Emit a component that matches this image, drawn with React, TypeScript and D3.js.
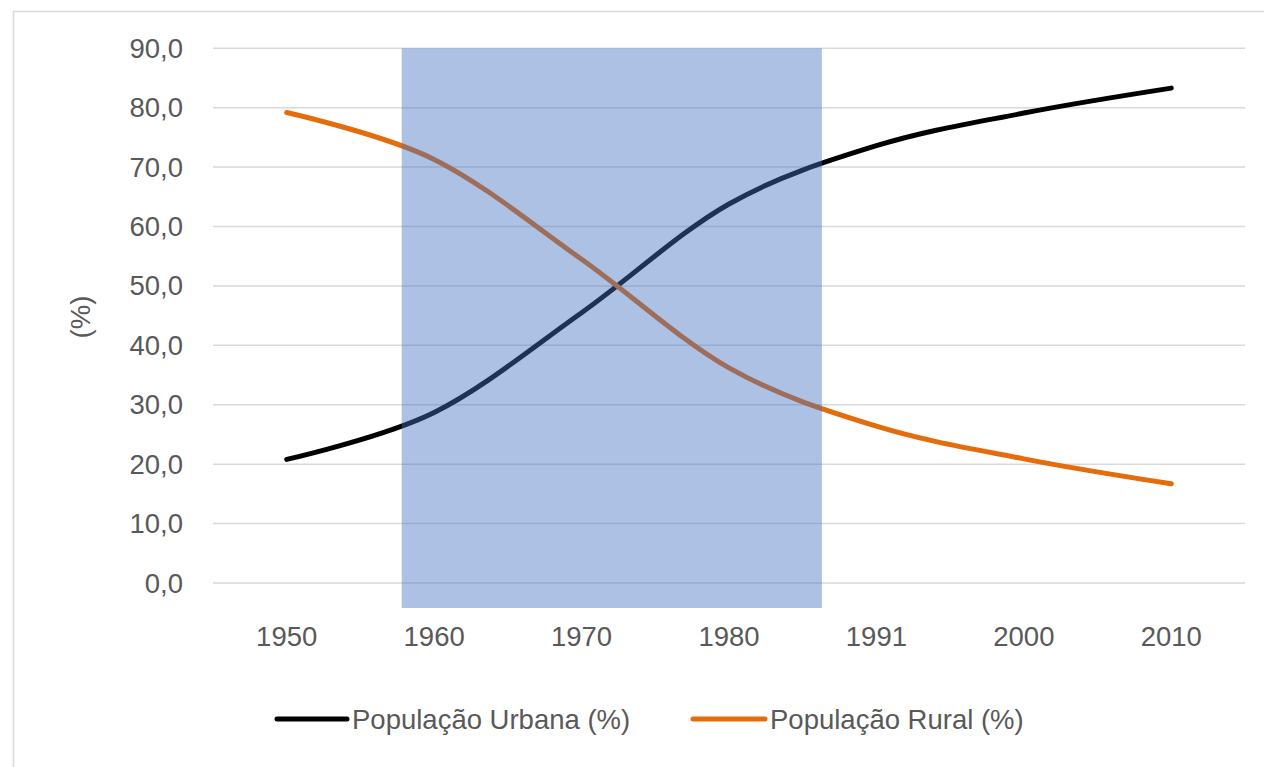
import React from "react";
import * as d3 from "d3";

const years = ["1950", "1960", "1970", "1980", "1991", "2000", "2010"];
const urbana = [20.8, 28.7, 45.5, 63.8, 73.6, 79.1, 83.3];
const rural = [79.2, 71.3, 54.5, 36.2, 26.4, 20.9, 16.7];
const yTicks = [0, 10, 20, 30, 40, 50, 60, 70, 80, 90];
// shaded period, in category-index units and value units
const shadeIdx = [0.78, 3.63];
const shadeVal = [-4.2, 90];

const seriesNames = ["População Urbana (%)", "População Rural (%)"];
const seriesColors = ["#000000", "#E46C0A"];

const W = 1264;
const H = 767;
const FONT = "'Liberation Sans', Arial, sans-serif";
const TXT = "#595959";
const FS = 27.5;

export default function App() {
  const x = d3.scalePoint<string>().domain(years).range([213, 1245]).padding(0.5);
  const xi = d3
    .scaleLinear()
    .domain([0, years.length - 1])
    .range([x(years[0]) as number, x(years[years.length - 1]) as number]);
  const y = d3.scaleLinear().domain([0, 90]).range([583, 48.3]);
  const line = d3
    .line<number>()
    .x((_, i) => xi(i))
    .y((d) => y(d))
    .curve(d3.curveCatmullRom.alpha(0));
  const fmt = (v: number) => v.toFixed(1).replace(".", ",");
  const series = [urbana, rural];

  const legendItems = [
    { x0: 277, x1: 347, tx: 352 },
    { x0: 693, x1: 765, tx: 770 },
  ];

  return (
    <div style={{ position: "absolute", left: 0, top: 0 }}>
      <svg width={W} height={H} style={{ display: "block", background: "#fff" }}>
        <rect x={13.5} y={11.5} width={W} height={H} fill="#fff" stroke="#d9d9d9" strokeWidth={1.5} />
        {yTicks.map((t) => (
          <g key={t}>
            <line x1={213} x2={1245} y1={y(t)} y2={y(t)} stroke="#d9d9d9" strokeWidth={1.5} />
            <text
              x={183}
              y={y(t)}
              textAnchor="end"
              dominantBaseline="central"
              fontFamily={FONT}
              fontSize={FS}
              fill={TXT}
            >
              {fmt(t)}
            </text>
          </g>
        ))}
        {years.map((yr) => (
          <text
            key={yr}
            x={x(yr)}
            y={636}
            textAnchor="middle"
            dominantBaseline="central"
            fontFamily={FONT}
            fontSize={FS}
            fill={TXT}
          >
            {yr}
          </text>
        ))}
        <text
          transform={`translate(80,317) rotate(-90)`}
          textAnchor="middle"
          dominantBaseline="central"
          fontFamily={FONT}
          fontSize={FS}
          fill={TXT}
        >
          (%)
        </text>
        {series.map((s, i) => (
          <path
            key={i}
            d={line(s) || ""}
            fill="none"
            stroke={seriesColors[i]}
            strokeWidth={5}
            strokeLinecap="round"
            strokeLinejoin="round"
          />
        ))}
        <rect
          x={xi(shadeIdx[0])}
          y={y(shadeVal[1])}
          width={xi(shadeIdx[1]) - xi(shadeIdx[0])}
          height={y(shadeVal[0]) - y(shadeVal[1])}
          fill="#4472C4"
          fillOpacity={0.44}
        />
        {legendItems.map((l, i) => (
          <g key={i}>
            <line
              x1={l.x0}
              x2={l.x1}
              y1={719}
              y2={719}
              stroke={seriesColors[i]}
              strokeWidth={5}
              strokeLinecap="round"
            />
            <text
              x={l.tx}
              y={719}
              dominantBaseline="central"
              fontFamily={FONT}
              fontSize={FS}
              fill={TXT}
            >
              {seriesNames[i]}
            </text>
          </g>
        ))}
      </svg>
    </div>
  );
}
